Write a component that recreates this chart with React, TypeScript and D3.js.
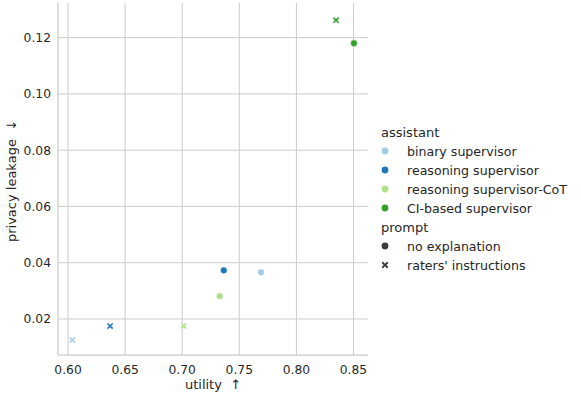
import React from "react";
import * as d3 from "d3";

const assistants = ["binary supervisor", "reasoning supervisor", "reasoning supervisor-CoT", "CI-based supervisor"];
const assistantColors = ["#a6cee3", "#1f78b4", "#b2df8a", "#33a02c"];
const prompts = ["no explanation", "raters' instructions"];

// values per assistant, per prompt
const utilityNoExpl = [0.769, 0.7364, 0.7328, 0.8504];
const leakageNoExpl = [0.0366, 0.0373, 0.0281, 0.118];
const utilityRaters = [0.6038, 0.6368, 0.7013, 0.8347];
const leakageRaters = [0.0125, 0.0175, 0.0175, 0.1262];

const xTicks = [0.6, 0.65, 0.7, 0.75, 0.8, 0.85];
const yTicks = [0.02, 0.04, 0.06, 0.08, 0.1, 0.12];

const W = 581, H = 398;
const L = 58, R = 368, T = 3, B = 355;

const xMarkerPath = (s: number) => {
  const a = s, b = s * 0.4;
  const pts: [number, number][] = [
    [-a, -a + b], [-a + b, -a], [0, -b], [a - b, -a], [a, -a + b], [b, 0],
    [a, a - b], [a - b, a], [0, b], [-a + b, a], [-a, a - b], [-b, 0],
  ];
  return "M" + pts.map(p => p.join(",")).join("L") + "Z";
};

export default function App() {
  const x = d3.scaleLinear().domain([0.5912, 0.8627]).range([L, R]);
  const y = d3.scaleLinear().domain([0.00721, 0.1323]).range([B, T]);
  const font = "DejaVu Sans, sans-serif";
  const grid = "#cccccc";
  const textColor = "#262626";

  const pts: { u: number; l: number; c: string; p: number }[] = [];
  assistants.forEach((_, i) => {
    pts.push({ u: utilityNoExpl[i], l: leakageNoExpl[i], c: assistantColors[i], p: 0 });
    pts.push({ u: utilityRaters[i], l: leakageRaters[i], c: assistantColors[i], p: 1 });
  });

  const legX = 385, legTextX = 407;
  const rowH = 19;
  const legTop = 132;
  const tickFs = 12.3;
  const legFs = 12.6;

  return (
    <svg width={W} height={H} style={{ position: "absolute", left: 0, top: 0 }} fontFamily={font}>
      <rect width={W} height={H} fill="white" />
      {xTicks.map(t => (
        <line key={"gx" + t} x1={x(t)} x2={x(t)} y1={T} y2={B} stroke={grid} strokeWidth={1} />
      ))}
      {yTicks.map(t => (
        <line key={"gy" + t} x1={L} x2={R} y1={y(t)} y2={y(t)} stroke={grid} strokeWidth={1} />
      ))}
      <line x1={L} x2={L} y1={T} y2={B} stroke={grid} strokeWidth={1.25} />
      <line x1={L} x2={R} y1={B} y2={B} stroke={grid} strokeWidth={1.25} />
      {xTicks.map(t => (
        <text key={"tx" + t} x={x(t)} y={B + 18.5} textAnchor="middle" fontSize={tickFs} fill={textColor}>
          {d3.format(".2f")(t)}
        </text>
      ))}
      {yTicks.map(t => (
        <text key={"ty" + t} x={L - 7} y={y(t) + 4.4} textAnchor="end" fontSize={tickFs} fill={textColor}>
          {d3.format(".2f")(t)}
        </text>
      ))}
      <text x={(L + R) / 2} y={389} textAnchor="middle" fontSize={13} fill={textColor} style={{ whiteSpace: "pre" }}>
        {"utility  ↑"}
      </text>
      <text transform={`translate(16,${(T + B) / 2 + 2}) rotate(-90)`} textAnchor="middle" fontSize={13} fill={textColor} style={{ whiteSpace: "pre" }}>
        {"privacy leakage  ↓"}
      </text>
      {pts.map((d, i) =>
        d.p === 0 ? (
          <circle key={i} cx={x(d.u)} cy={y(d.l)} r={3.4} fill={d.c} stroke="white" strokeWidth={0.5} />
        ) : (
          <path key={i} d={xMarkerPath(3.4)} transform={`translate(${x(d.u)},${y(d.l)})`} fill={d.c} stroke="white" strokeWidth={0.4} />
        )
      )}
      <text x={381} y={legTop + 4.5} fontSize={13} fill={textColor}>assistant</text>
      {assistants.map((a, i) => (
        <g key={a}>
          <circle cx={legX} cy={legTop + rowH * (i + 1)} r={3.4} fill={assistantColors[i]} />
          <text x={legTextX} y={legTop + rowH * (i + 1) + 4.5} fontSize={legFs} fill={textColor}>{a}</text>
        </g>
      ))}
      <text x={381} y={legTop + rowH * 5 + 4.5} fontSize={13} fill={textColor}>prompt</text>
      {prompts.map((p, i) => (
        <g key={p}>
          {i === 0 ? (
            <circle cx={legX} cy={legTop + rowH * (6 + i)} r={3.4} fill="#3b3b3b" />
          ) : (
            <path d={xMarkerPath(3.4)} transform={`translate(${legX},${legTop + rowH * (6 + i)})`} fill="#3b3b3b" />
          )}
          <text x={legTextX} y={legTop + rowH * (6 + i) + 4.5} fontSize={legFs} fill={textColor}>{p}</text>
        </g>
      ))}
    </svg>
  );
}
